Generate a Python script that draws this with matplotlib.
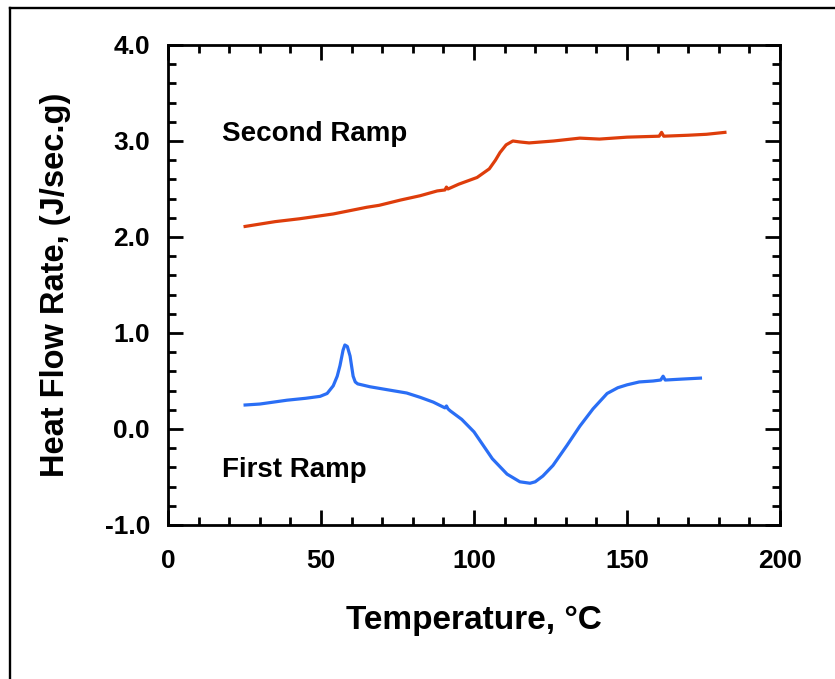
import matplotlib
matplotlib.use("Agg")
import matplotlib.pyplot as plt
from matplotlib.lines import Line2D
from matplotlib.ticker import MultipleLocator, FormatStrFormatter

plt.rcParams['font.family'] = ['Liberation Sans', 'DejaVu Sans']
plt.rcParams['font.weight'] = 'bold'

# Second ramp (red)
t2 = [25.2, 35, 43, 54, 65, 69, 76, 82.4, 88, 90.5, 91, 91.5, 95, 101, 105, 107,
      108.5, 110.5, 112.7, 115, 118, 126, 134.6, 141, 150, 160.5, 161.3, 162,
      170, 176, 182]
h2 = [2.11, 2.16, 2.19, 2.24, 2.31, 2.33, 2.385, 2.43, 2.48, 2.49, 2.52, 2.50,
      2.55, 2.62, 2.71, 2.80, 2.88, 2.96, 3.00, 2.99, 2.98, 3.00, 3.03, 3.02,
      3.04, 3.05, 3.09, 3.05, 3.06, 3.07, 3.09]

# First ramp (blue)
t1 = [25.2, 30, 38.9, 45, 49.7, 52, 54, 55.3, 56.2, 57.2, 57.8, 58.6, 59.5,
      60.5, 61.2, 62, 66, 71.5, 78, 82.4, 86.7, 90.5, 91, 91.5, 92.2, 96, 100,
      106, 110.8, 115, 118.3, 120, 122.5, 125.8, 130.4, 134.6, 138.9, 143.5,
      147, 150, 154, 158.5, 161, 161.8, 162.5, 168, 174]
h1 = [0.25, 0.26, 0.30, 0.32, 0.34, 0.37, 0.45, 0.55, 0.66, 0.82, 0.875, 0.86,
      0.76, 0.55, 0.49, 0.47, 0.44, 0.41, 0.375, 0.33, 0.28, 0.22, 0.24, 0.21,
      0.19, 0.10, -0.03, -0.31, -0.47, -0.55, -0.565, -0.55, -0.49, -0.38,
      -0.17, 0.03, 0.21, 0.37, 0.43, 0.46, 0.49, 0.50, 0.51, 0.55, 0.51, 0.52,
      0.53]

xticks = [0, 50, 100, 150, 200]
yticks = [-1.0, 0.0, 1.0, 2.0, 3.0, 4.0]

W, H = 835, 679
fig = plt.figure(figsize=(W / 100, H / 100), dpi=100)
ax = fig.add_axes([168 / W, 1 - 525 / H, (780 - 168) / W, (525 - 45) / H])

ax.plot(t2, h2, color='#DE3D0B', lw=2.3, solid_joinstyle='round')
ax.plot(t1, h1, color='#2A6EF5', lw=2.3, solid_joinstyle='round')

ax.set_xlim(0, 200)
ax.set_ylim(-1.0, 4.0)
ax.set_xticks(xticks)
ax.set_yticks(yticks)
ax.xaxis.set_minor_locator(MultipleLocator(10))
ax.yaxis.set_minor_locator(MultipleLocator(0.2))
ax.yaxis.set_major_formatter(FormatStrFormatter('%.1f'))

for s in ax.spines.values():
    s.set_linewidth(2.0)

ax.tick_params(which='both', direction='in', top=True, right=True, width=2.0,
               labelsize=19)
ax.tick_params(which='major', length=11)
ax.tick_params(which='minor', length=5.5)
ax.tick_params(axis='x', which='major', pad=17)
ax.tick_params(axis='y', which='major', pad=13)
for lab in ax.get_xticklabels() + ax.get_yticklabels():
    lab.set_fontweight('bold')

ax.set_xlabel('Temperature, °C', fontsize=24, fontweight='bold', labelpad=23)
ax.set_ylabel('Heat Flow Rate, (J/sec.g)', fontsize=23.5, fontweight='bold',
              labelpad=24)

ax.text(17.6, 3.0, 'Second Ramp', fontsize=20, fontweight='bold',
        ha='left', va='baseline')
ax.text(17.6, -0.5, 'First Ramp', fontsize=20, fontweight='bold',
        ha='left', va='baseline')

# outer frame (top and left edges visible)
fig.add_artist(Line2D([10 / W, 1.0], [1 - 8 / H, 1 - 8 / H],
                      transform=fig.transFigure, color='black', lw=1.7))
fig.add_artist(Line2D([10 / W, 10 / W], [0.0, 1 - 8 / H],
                      transform=fig.transFigure, color='black', lw=1.7))

fig.savefig('out.png', dpi=100)
